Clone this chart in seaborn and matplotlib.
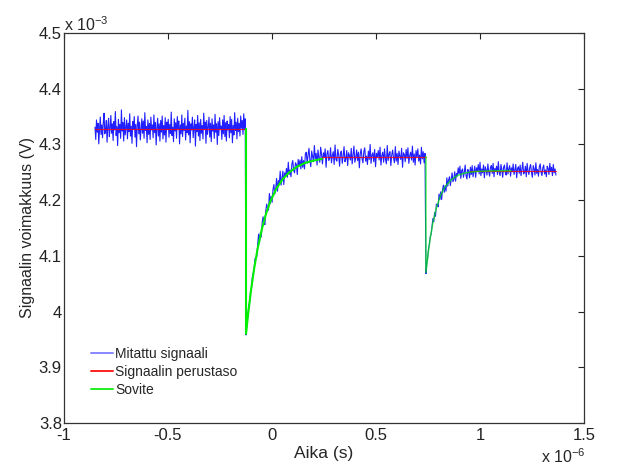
import numpy as np
import matplotlib
matplotlib.use("Agg")
import matplotlib.pyplot as plt
from matplotlib.lines import Line2D
import seaborn as sns

# ---------------- data (time in microseconds, voltage in mV) ----------------
seg_starts = [-0.851, -0.125, 0.740]
seg_ends = [-0.125, 0.740, 1.365]

sig1 = [4.331, 4.309, 4.344, 4.322, 4.338, 4.301, 4.327, 4.349, 4.318, 4.335,
        4.312, 4.340, 4.356, 4.319, 4.325, 4.343, 4.304, 4.333, 4.347, 4.314,
        4.329, 4.352, 4.320, 4.337, 4.307, 4.341, 4.326, 4.359, 4.316, 4.332,
        4.298, 4.345, 4.321, 4.336, 4.311, 4.362, 4.324, 4.339, 4.306, 4.348,
        4.317, 4.330, 4.344, 4.310, 4.338, 4.323, 4.355, 4.315, 4.333, 4.302,
        4.341, 4.327, 4.350, 4.313, 4.336, 4.296, 4.334, 4.351, 4.319, 4.340,
        4.308, 4.328, 4.346, 4.320, 4.342, 4.311, 4.357, 4.325, 4.332, 4.303,
        4.344, 4.318, 4.338, 4.309, 4.349, 4.326, 4.335, 4.312, 4.353, 4.321,
        4.339, 4.299, 4.330, 4.347, 4.315, 4.337, 4.306, 4.343, 4.322, 4.351,
        4.310, 4.334, 4.317, 4.348, 4.304, 4.340, 4.327, 4.345, 4.313, 4.336,
        4.320, 4.358, 4.316, 4.331, 4.305, 4.346, 4.324, 4.339, 4.311, 4.350,
        4.328, 4.342, 4.301, 4.335, 4.319, 4.353, 4.314, 4.338, 4.325, 4.347,
        4.308, 4.333, 4.321, 4.361, 4.317, 4.341, 4.303, 4.337, 4.326, 4.349,
        4.312, 4.330, 4.344, 4.297, 4.336, 4.323, 4.352, 4.315, 4.339, 4.307,
        4.345, 4.320, 4.334, 4.310, 4.356, 4.327, 4.340, 4.302, 4.343, 4.318,
        4.331, 4.349, 4.313, 4.338, 4.305, 4.346, 4.324, 4.335, 4.311, 4.354,
        4.322, 4.337, 4.300, 4.341, 4.316, 4.348, 4.328, 4.333, 4.309, 4.344,
        4.319, 4.352, 4.314, 4.339, 4.306, 4.342, 4.326, 4.336, 4.312, 4.350,
        4.321, 4.345, 4.303, 4.334, 4.317, 4.357, 4.325, 4.340, 4.310, 4.347,
        4.323, 4.338, 4.315, 4.351, 4.329, 4.343, 4.318, 4.355, 4.327, 4.346]

sig2 = [3.958, 3.979, 3.990, 4.011, 4.016, 4.035, 4.039, 4.061, 4.069, 4.076,
        4.095, 4.097, 4.099, 4.121, 4.139, 4.124, 4.142, 4.134, 4.160, 4.170,
        4.161, 4.156, 4.181, 4.193, 4.185, 4.182, 4.212, 4.194, 4.207, 4.196,
        4.219, 4.228, 4.211, 4.220, 4.239, 4.216, 4.235, 4.228, 4.252, 4.227,
        4.240, 4.252, 4.228, 4.249, 4.243, 4.257, 4.241, 4.268, 4.246, 4.254,
        4.242, 4.265, 4.271, 4.253, 4.249, 4.267, 4.264, 4.246, 4.273, 4.261,
        4.272, 4.256, 4.278, 4.259, 4.271, 4.256, 4.283,
        4.286, 4.266, 4.281, 4.293, 4.272, 4.260, 4.288, 4.279, 4.269, 4.298,
        4.274, 4.284, 4.263, 4.290, 4.276, 4.268, 4.295, 4.282, 4.265, 4.285,
        4.277, 4.292, 4.259, 4.283, 4.289, 4.271, 4.275, 4.294, 4.267, 4.280,
        4.287, 4.264, 4.299, 4.273, 4.270, 4.291, 4.281, 4.261, 4.284, 4.288,
        4.266, 4.279, 4.296, 4.269, 4.274, 4.289, 4.262, 4.285, 4.280, 4.272,
        4.293, 4.265, 4.282, 4.297, 4.268, 4.276, 4.290, 4.271, 4.286, 4.258,
        4.283, 4.292, 4.275, 4.267, 4.287, 4.294, 4.270, 4.279, 4.264, 4.288,
        4.273, 4.300, 4.266, 4.281, 4.285, 4.269, 4.291, 4.260, 4.284, 4.277,
        4.289, 4.272, 4.295, 4.263, 4.280, 4.286, 4.268, 4.292, 4.274, 4.265,
        4.298, 4.271, 4.283, 4.287, 4.262, 4.281, 4.290, 4.276, 4.267, 4.296,
        4.270, 4.284, 4.264, 4.288, 4.279, 4.273, 4.293, 4.259, 4.285, 4.282,
        4.269, 4.291, 4.275, 4.294, 4.266, 4.280, 4.286, 4.272, 4.297, 4.268,
        4.283, 4.263, 4.289, 4.277, 4.292, 4.270, 4.281, 4.265, 4.295, 4.274,
        4.287, 4.267, 4.284]

sig3 = [4.068, 4.086, 4.096, 4.113, 4.121, 4.135, 4.139, 4.153, 4.167, 4.161,
        4.178, 4.171, 4.193, 4.192, 4.188, 4.211, 4.201, 4.215, 4.201, 4.218,
        4.227, 4.214, 4.226, 4.216, 4.240, 4.225, 4.236, 4.242, 4.226, 4.238,
        4.249, 4.233, 4.237, 4.251, 4.234, 4.248,
        4.243, 4.258, 4.247, 4.261, 4.239, 4.253, 4.256, 4.241, 4.250, 4.263,
        4.244, 4.238, 4.255, 4.252, 4.240, 4.259, 4.246, 4.262, 4.242, 4.251,
        4.261, 4.241, 4.258, 4.252, 4.264, 4.247, 4.268, 4.244, 4.256, 4.249,
        4.263, 4.240, 4.260, 4.254, 4.245, 4.265, 4.251, 4.243, 4.259, 4.262,
        4.248, 4.266, 4.242, 4.257, 4.252, 4.261, 4.246, 4.269, 4.250, 4.244,
        4.264, 4.255, 4.241, 4.259, 4.263, 4.249, 4.245, 4.267, 4.247, 4.256,
        4.262, 4.243, 4.258, 4.251, 4.265, 4.246, 4.254, 4.264, 4.240, 4.257,
        4.260, 4.248, 4.263, 4.244, 4.255, 4.268, 4.247, 4.250, 4.261, 4.242,
        4.266, 4.252, 4.246, 4.259, 4.264, 4.249, 4.241, 4.262, 4.256, 4.245,
        4.267, 4.248, 4.255, 4.243, 4.260, 4.265, 4.250, 4.244, 4.258, 4.263,
        4.247, 4.254, 4.242, 4.261, 4.257, 4.246, 4.266, 4.251, 4.259, 4.244,
        4.264, 4.249, 4.256, 4.245]

base_x = [[-0.851, -0.125], [0.240, 0.740], [0.950, 1.365]]
base_y = [4.328, 4.278, 4.253]

fit1_x = [-0.125, -0.125, -0.115, -0.100, -0.085, -0.070, -0.050, -0.030,
          -0.010, 0.020, 0.050, 0.080, 0.120, 0.160, 0.200, 0.240]
fit1_y = [4.328, 3.960, 3.995, 4.041, 4.079, 4.111, 4.146, 4.174,
          4.196, 4.220, 4.237, 4.249, 4.260, 4.267, 4.271, 4.274]
fit2_x = [0.740, 0.740, 0.750, 0.760, 0.775, 0.790, 0.810, 0.830,
          0.860, 0.890, 0.930, 0.980, 1.050, 1.150]
fit2_y = [4.278, 4.070, 4.103, 4.130, 4.162, 4.186, 4.208, 4.223,
          4.236, 4.244, 4.249, 4.2515, 4.2525, 4.253]

x_ticks = [-1, -0.5, 0, 0.5, 1, 1.5]
x_tick_labels = ["-1", "-0.5", "0", "0.5", "1", "1.5"]
y_ticks = [3.8, 3.9, 4.0, 4.1, 4.2, 4.3, 4.4, 4.5]
y_tick_labels = ["3.8", "3.9", "4", "4.1", "4.2", "4.3", "4.4", "4.5"]

labels = ["Mitattu signaali", "Signaalin perustaso", "Sovite"]
colors = ["#0000ff", "#ff0000", "#00ee00"]

# ---------------- style ----------------
sns.set_style("white")
plt.rcParams["font.family"] = ["Liberation Sans", "DejaVu Sans"]
plt.rcParams["mathtext.default"] = "regular"
plt.rcParams["mathtext.fontset"] = "custom"
plt.rcParams["mathtext.rm"] = "Liberation Sans"

fig = plt.figure(figsize=(6.26, 4.73), dpi=100)
W, H = 626, 473
L, R, T, B = 64, 584, 33, 423
ax = fig.add_axes([L / W, 1 - B / H, (R - L) / W, (B - T) / H])

# signal
sig_x, sig_y = [], []
for i, (s, e, vals) in enumerate(zip(seg_starts, seg_ends, [sig1, sig2, sig3])):
    last = i == len(seg_starts) - 1
    xs = np.linspace(s, e, len(vals), endpoint=last)
    sig_x.extend(xs)
    sig_y.extend(vals)

sns.lineplot(x=sig_x, y=sig_y, estimator=None, sort=False, ax=ax,
             color=colors[0], lw=0.8, alpha=0.88, legend=False)
for bx, by in zip(base_x, base_y):
    sns.lineplot(x=bx, y=[by, by], estimator=None, sort=False, ax=ax,
                 color=colors[1], lw=0.8, alpha=0.8, legend=False)
sns.lineplot(x=fit1_x, y=fit1_y, estimator=None, sort=False, ax=ax,
             color=colors[2], lw=1.5, legend=False)
sns.lineplot(x=fit2_x, y=fit2_y, estimator=None, sort=False, ax=ax,
             color=colors[2], lw=1.1, alpha=0.7, legend=False)

ax.set_xlim(-1, 1.5)
ax.set_ylim(3.8, 4.5)
ax.set_xticks(x_ticks)
ax.set_xticklabels(x_tick_labels)
ax.set_yticks(y_ticks)
ax.set_yticklabels(y_tick_labels)
ax.tick_params(direction="in", length=4, width=0.8, top=True, right=True,
               labelsize=12, colors="#222222")
ax.tick_params(axis="x", pad=3.5)
ax.tick_params(axis="y", pad=1.5)
for sp in ax.spines.values():
    sp.set_visible(True)
    sp.set_color("#333333")
    sp.set_linewidth(0.9)

ax.set_xlabel("Aika (s)", fontsize=12.5, labelpad=2)
ax.set_ylabel("Signaalin voimakkuus (V)", fontsize=11.5, labelpad=3)

fig.text(L / W, 1 - 31 / H, "x 10$^{-3}$", fontsize=11.5, ha="left", va="baseline")
fig.text(586 / W, 1 - 463 / H, "x 10$^{-6}$", fontsize=11.5, ha="right", va="baseline")

handles = [Line2D([0], [0], color="#8888ff", lw=1.4),
           Line2D([0], [0], color="#ff2020", lw=1.4),
           Line2D([0], [0], color="#22ee22", lw=1.4)]
ax.legend(handles, labels, frameon=False, loc="upper left",
          bbox_to_anchor=((91 - L) / (R - L), (B - 347) / (B - T)),
          borderpad=0, borderaxespad=0, handlelength=1.6,
          handletextpad=0.15, labelspacing=0.3, fontsize=10)

fig.savefig("out.png", dpi=100)
